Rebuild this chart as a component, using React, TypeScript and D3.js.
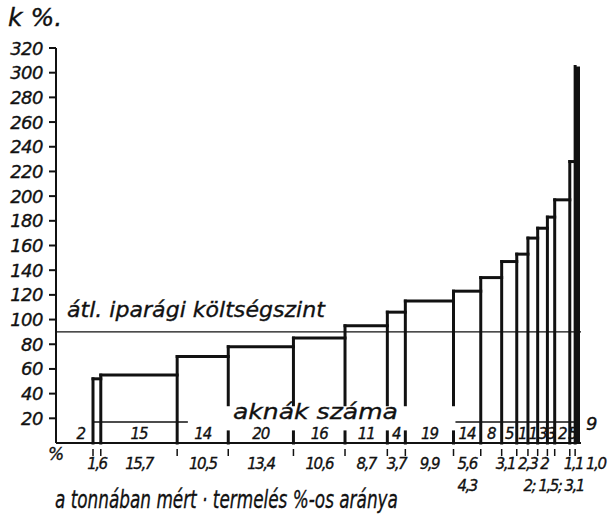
import React, { useLayoutEffect, useRef, useState } from "react";
import * as d3 from "d3";

// Share of production (tonnage %) per cost group, left to right
const shares = [1.6, 15.7, 10.5, 13.4, 10.6, 8.7, 3.7, 9.9, 5.6, 4.3, 3.1, 2.3, 2, 2, 1.5, 3.1, 1.1, 1.0];
const shareLabels = ["1,6", "15,7", "10,5", "13,4", "10,6", "8,7", "3,7", "9,9", "5,6", "4,3", "3,1", "2,3", "2", "2", "1,5", "3,1", "1,1", "1,0"];
// Cost level k % per group
const costs = [52, 55, 70, 78, 85, 95, 106, 115, 123, 134, 147, 153, 166, 174, 183, 197, 228, 305];
// Number of mines per group
const mineCounts = [2, 15, 14, 20, 16, 11, 4, 19, 14, 8, 5, 1, 1, 3, 3, 2, 5, 9];
const yTicks = [20, 40, 60, 80, 100, 120, 140, 160, 180, 200, 220, 240, 260, 280, 300, 320];
const avgLevel = 90;

const W = 609, H = 519;
const FONT = "'DejaVu Sans', sans-serif";

function FitText(props: { x: number; y: number; width: number; fontSize: number; children: string }) {
  const ref = useRef<SVGTextElement>(null);
  const [sx, setSx] = useState(1);
  useLayoutEffect(() => {
    if (ref.current) {
      const w = ref.current.getComputedTextLength();
      if (w > 0) setSx(props.width / w);
    }
  }, [props.width, props.children]);
  return (
    <text ref={ref} transform={`translate(${props.x},${props.y}) scale(${sx},1)`} fontSize={props.fontSize}>
      {props.children}
    </text>
  );
}

export default function App() {
  const total = d3.sum(shares);
  const edges = [0, ...Array.from(d3.cumsum(shares))];
  const x = d3.scaleLinear().domain([0, total]).range([93, 580]);
  const y = d3.scaleLinear().domain([0, 320]).range([443, 48]);
  const axisX = 56;
  const n = shares.length;
  const last = n - 1;
  const gapFrom = 19.5, gapTo = 74.5; // share-units where the lower text band is open
  const sepLevel = 17, breakLevel = 31, stubLevel = 9;

  const verticals: JSX.Element[] = [];
  for (let k = 0; k < n; k++) {
    const top = Math.max(k > 0 ? costs[k - 1] : 0, costs[k]);
    const xe = x(edges[k]);
    const inGap = edges[k] > gapFrom && edges[k] < gapTo;
    if (inGap) {
      verticals.push(<line key={"v" + k} x1={xe} x2={xe} y1={y(top)} y2={y(breakLevel)} />);
      verticals.push(<line key={"s" + k} x1={xe} x2={xe} y1={y(stubLevel)} y2={y(0)} />);
    } else {
      verticals.push(<line key={"v" + k} x1={xe} x2={xe} y1={y(top)} y2={y(0)} />);
    }
  }

  const cx = (i: number) => (x(edges[i]) + x(edges[i + 1])) / 2;
  const row1 = 469, row2 = 491;
  const LS = -1.5;
  const approxW = (s: string) =>
    s.split("").reduce((a, ch) => a + (ch === "," || ch === ";" ? 4.8 : ch === " " ? 4.8 : 9.5) + LS, 0);
  const pctTexts: JSX.Element[] = [];
  let prevEnd = -Infinity;
  shareLabels.forEach((lab, i) => {
    if (i >= 13 && i <= 15) return;
    const w = approxW(lab);
    if (i === 9) {
      pctTexts.push(
        <text key={"p" + i} x={x(edges[i]) - 4} y={row2} textAnchor="end">{lab}</text>
      );
      return;
    }
    let start: number;
    if (i < 10) start = cx(i) - w / 2;
    else start = Math.max(x(edges[i]) - 6, prevEnd + 3);
    start = Math.min(start, W - w - 3);
    prevEnd = start + w;
    pctTexts.push(
      <text key={"p" + i} x={start} y={row1} textAnchor="start">{lab}</text>
    );
  });
  const grpText = shareLabels.slice(13, 16).join("; ");
  pctTexts.push(
    <text key="pg" x={(x(edges[13]) + x(edges[16])) / 2} y={row2} textAnchor="middle">{grpText}</text>
  );

  return (
    <svg width={W} height={H} style={{ position: "absolute", left: 0, top: 0, background: "#fff" }}>
      <rect width={W} height={H} fill="#fff" />
      <g fontFamily={FONT} fontStyle="italic" fill="#111" stroke="#111" strokeWidth={0.35}>
        <text x={8} y={26} fontSize={25}>k %.</text>
        {yTicks.map((t) => (
          <text key={t} x={43} y={y(t) + 6.5} fontSize={18} textAnchor="end" letterSpacing={-0.5}>{t}</text>
        ))}
        <text x={48} y={460} fontSize={17}>%</text>
        <FitText x={67} y={317} width={258} fontSize={22}>átl. iparági költségszint</FitText>
        <FitText x={233} y={419} width={165} fontSize={22}>aknák száma</FitText>
        <FitText x={55} y={508} width={343} fontSize={24}>a tonnában mért · termelés %-os aránya</FitText>
        <g fontSize={15} letterSpacing={LS}>{pctTexts}</g>
        <g fontSize={15}>
          {mineCounts.map((c, i) => {
            if (i === 0)
              return <text key={"c" + i} x={x(edges[0]) - 7} y={439} textAnchor="end">{c}</text>;
            if (i === last)
              return <text key={"c" + i} x={x(edges[i + 1]) + 6} y={430} fontSize={18}>{c}</text>;
            return <text key={"c" + i} x={cx(i)} y={439} textAnchor="middle" letterSpacing={-1}>{c}</text>;
          })}
        </g>
      </g>

      {/* y axis */}
      <g stroke="#111" strokeWidth={2}>
        <line x1={axisX} x2={axisX} y1={y(320)} y2={y(0)} />
        {yTicks.map((t) => (
          <line key={t} x1={axisX - 7} x2={axisX} y1={y(t)} y2={y(t)} />
        ))}
        <line x1={axisX} x2={x(total) + 1} y1={y(0)} y2={y(0)} />
      </g>

      {/* ticks below x axis */}
      <g stroke="#111" strokeWidth={1.5}>
        {edges.slice(0, n).map((e, k) => (
          <line key={k} x1={x(e)} x2={x(e)} y1={449} y2={456} />
        ))}
      </g>

      {/* average level and separator lines */}
      <g stroke="#111" strokeWidth={1.3}>
        <line x1={axisX} x2={x(total) + 1} y1={y(avgLevel)} y2={y(avgLevel)} />
        <line x1={x(0)} x2={x(gapFrom)} y1={y(sepLevel)} y2={y(sepLevel)} />
        <line x1={x(gapTo)} x2={x(edges[last])} y1={y(sepLevel)} y2={y(sepLevel)} />
      </g>

      {/* bars */}
      <g stroke="#111" strokeWidth={3} strokeLinecap="square">
        {costs.slice(0, last).map((c, i) => (
          <line key={"t" + i} x1={x(edges[i])} x2={x(edges[i + 1])} y1={y(c)} y2={y(c)} />
        ))}
        {verticals}
      </g>
      <rect x={x(edges[last])} y={y(costs[last])} width={x(edges[last + 1]) - x(edges[last])} height={y(0) - y(costs[last])} fill="#111" />
    </svg>
  );
}
